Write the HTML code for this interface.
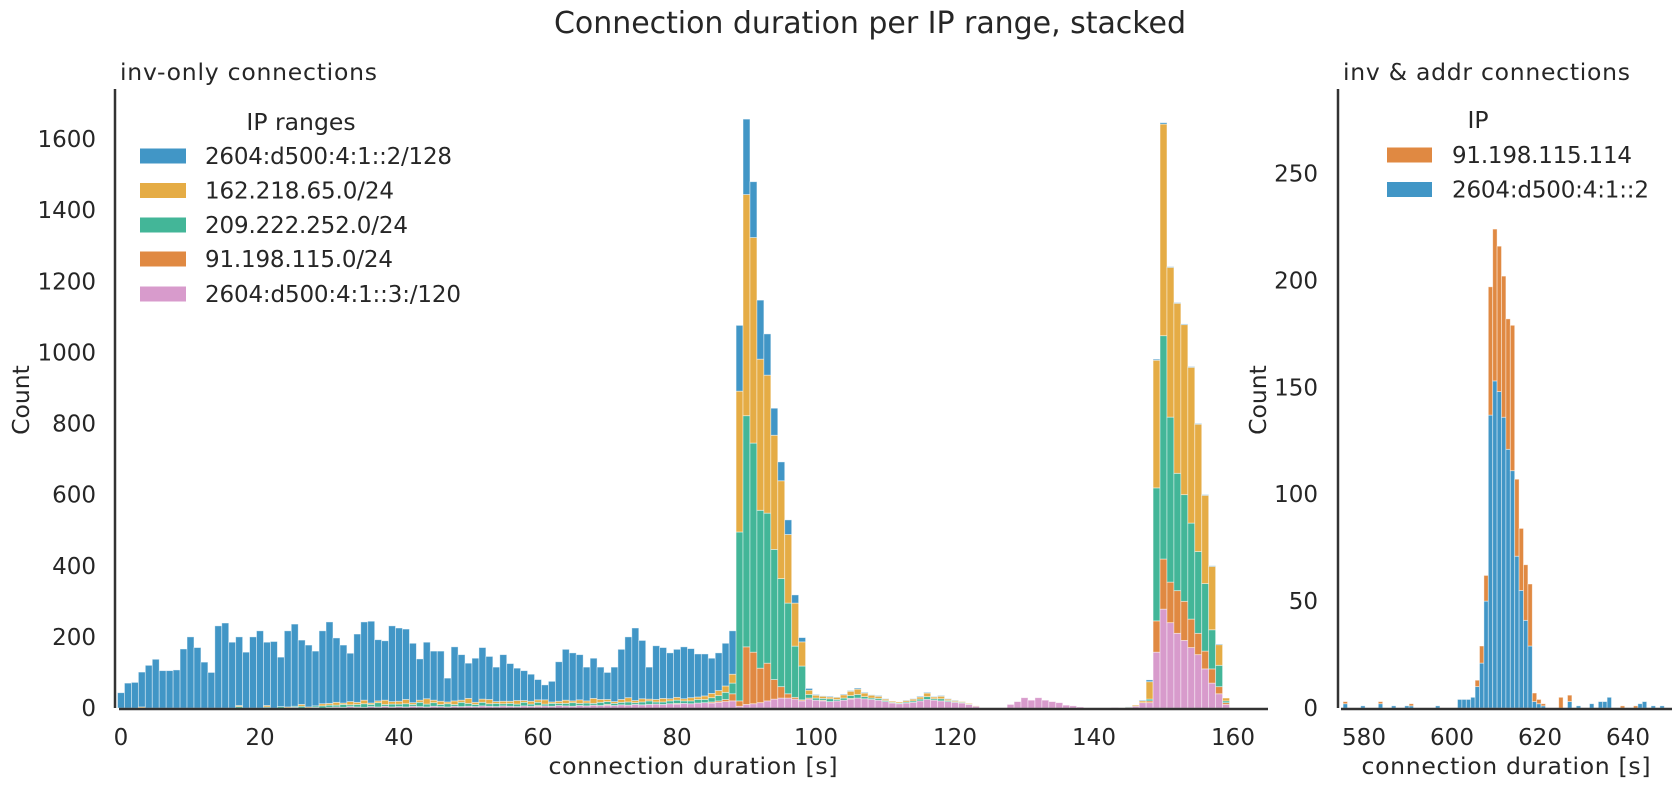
<!DOCTYPE html>
<html>
<head>
<meta charset="utf-8">
<style>
html,body{margin:0;padding:0;background:#fff;}
svg{display:block;font-family:"DejaVu Sans","Liberation Sans",sans-serif;}
text{fill:#262626;}
</style>
</head>
<body>
<svg id="chart" width="1679" height="790" viewBox="0 0 1679 790" xmlns="http://www.w3.org/2000/svg">
  <rect x="0" y="0" width="1679" height="790" fill="#fff"/>
  <text x="870" y="33" font-size="30" text-anchor="middle" textLength="632">Connection duration per IP range, stacked</text>

  <!-- left panel -->
  <text x="120" y="80" font-size="23.5" textLength="257">inv-only connections</text>
  <g id="leftBars"></g>
  <g id="leftYTicks"></g>
  <g id="leftXTicks"></g>
  <line x1="115" y1="89" x2="115" y2="708" stroke="#333" stroke-width="2.5"/>
  <line x1="119" y1="709" x2="1268" y2="709" stroke="#333" stroke-width="2.5"/>
  <text transform="translate(29,400) rotate(-90)" font-size="23.5" text-anchor="middle">Count</text>
  <text x="693" y="774" font-size="23.5" text-anchor="middle" textLength="289">connection duration [s]</text>

  <g>
    <text x="301" y="130" font-size="23.5" text-anchor="middle">IP ranges</text>
    <g><rect x="140" y="148.5" width="46" height="15" fill="#4196c6"/><text x="205" y="164" font-size="23" textLength="247">2604:d500:4:1::2/128</text></g>
    <g><rect x="140" y="183" width="46" height="15" fill="#e5ac45"/><text x="205" y="198.5" font-size="23" textLength="189">162.218.65.0/24</text></g>
    <g><rect x="140" y="217.5" width="46" height="15" fill="#43b698"/><text x="205" y="233" font-size="23" textLength="203">209.222.252.0/24</text></g>
    <g><rect x="140" y="251.5" width="46" height="15" fill="#e08942"/><text x="205" y="267" font-size="23" textLength="188">91.198.115.0/24</text></g>
    <g><rect x="140" y="286.5" width="46" height="15" fill="#d89bcc"/><text x="205" y="302" font-size="23" textLength="256">2604:d500:4:1::3:/120</text></g>
  </g>

  <!-- right panel -->
  <text x="1343" y="80" font-size="23.5" textLength="287">inv &amp; addr connections</text>
  <g id="rightBars"></g>
  <g id="rightYTicks"></g>
  <g id="rightXTicks"></g>
  <line x1="1338" y1="89" x2="1338" y2="708" stroke="#333" stroke-width="2.5"/>
  <line x1="1341" y1="709" x2="1672" y2="709" stroke="#333" stroke-width="2.5"/>
  <text transform="translate(1266,400) rotate(-90)" font-size="23.5" text-anchor="middle">Count</text>
  <text x="1506" y="774" font-size="23.5" text-anchor="middle" textLength="289">connection duration [s]</text>

  <g>
    <text x="1478" y="128" font-size="23.5" text-anchor="middle">IP</text>
    <g><rect x="1387" y="147.5" width="45" height="15" fill="#e08942"/><text x="1452" y="163" font-size="23" textLength="180">91.198.115.114</text></g>
    <g><rect x="1387" y="182" width="45" height="15" fill="#4196c6"/><text x="1452" y="197.5" font-size="23" textLength="197">2604:d500:4:1::2</text></g>
  </g>
</svg>
<script>
// ---------- left chart data (bin k covers [k-0.5, k+0.5] seconds) ----------
const leftBlue = [43,70,72,98,120,137,105,105,107,166,
200,170,129,100,231,239,185,193,157,200,
217,178,187,139,214,231,181,174,154,205,
229,181,163,136,192,220,230,172,167,213,
206,198,167,116,159,138,141,67,152,128,
99,124,145,121,97,131,106,91,84,76,
57,42,58,111,143,135,127,95,113,91,
76,97,141,171,204,164,90,151,143,129,
135,146,138,121,118,99,106,120,122,185,
212,157,166,116,76,53,41,23,12,5,
2,1,2,1,2,2,3,2,1,2,
1,0,0,1,1,2,2,1,2,1,
1,0,0,0,0,0,0,0,0,0,
0,0,0,0,0,0,0,0,0,0,
0,0,0,0,0,1,0,2,5,3,
4,2,2,2,2,2,2,2,2,0];
const leftYellow = [0,0,0,3,0,0,0,0,0,0,
0,0,0,0,0,0,0,3,0,0,
0,4,0,0,3,0,5,3,0,6,
5,8,4,9,6,10,4,5,12,7,
8,12,5,6,15,7,9,5,10,6,
14,6,9,12,5,7,6,10,5,8,
7,12,4,6,9,5,10,6,14,8,
6,5,8,12,6,9,5,7,10,6,
8,6,9,7,10,12,14,18,25,396,
622,578,425,388,321,275,193,121,68,12,
8,6,5,6,9,12,15,10,8,6,
4,3,3,4,5,6,10,5,7,4,
3,2,2,1,0,0,0,0,0,0,
0,0,0,0,0,0,0,0,0,0,
0,0,0,0,0,2,3,5,49,359,
595,421,478,478,438,358,248,178,58,8];
const leftTeal = [0,0,0,0,0,0,0,0,0,0,
0,0,0,0,0,0,0,4,0,0,
0,3,0,4,0,3,5,0,4,6,
6,5,8,5,7,10,6,12,5,8,
7,9,5,12,8,10,6,9,5,12,
8,6,10,7,9,6,8,7,10,6,
9,5,8,6,7,10,6,8,5,9,
8,6,7,9,5,8,10,6,7,8,
9,7,8,10,9,12,15,20,30,475,
650,588,444,422,366,304,255,144,95,10,
6,5,8,4,6,8,10,6,4,5,
3,2,2,3,4,5,8,4,6,3,
2,2,1,0,0,0,0,0,0,0,
0,0,0,0,0,0,0,0,0,0,
0,0,0,0,0,0,0,0,5,374,
628,464,330,300,270,230,190,110,60,5];
const leftOrange = [0,0,0,0,0,0,0,0,0,0,
0,0,0,0,0,0,0,0,0,0,
0,0,0,0,0,0,0,0,0,0,
0,0,0,0,0,0,0,0,0,0,
0,0,0,0,0,0,0,0,0,0,
0,0,0,0,0,0,0,0,0,0,
2,0,0,0,0,0,0,0,0,0,
2,0,0,0,0,0,0,0,0,0,
2,0,0,0,0,3,4,6,20,15,
162,145,97,106,55,32,12,5,3,3,
0,2,0,0,0,2,0,0,0,0,
0,0,0,0,0,0,0,0,0,0,
0,0,0,0,0,0,0,0,0,0,
0,0,0,0,0,0,0,0,0,0,
0,0,0,0,0,0,0,0,5,88,
141,114,120,110,80,60,50,40,20,5];
const leftPink = [0,0,0,0,0,0,0,0,0,0,
0,0,0,0,0,0,0,0,0,0,
0,0,0,0,0,2,0,0,2,0,
2,3,2,4,3,2,4,3,5,3,
4,3,5,4,3,5,4,3,5,4,
5,4,6,5,4,6,5,4,6,5,
5,6,5,7,6,5,7,6,8,7,
8,7,9,8,10,9,10,11,10,12,
11,13,12,14,15,14,16,18,20,5,
10,12,15,20,25,28,28,25,20,25,
22,20,18,20,22,25,28,26,24,22,
18,14,12,14,16,20,24,22,20,18,
16,14,10,5,0,0,0,0,10,18,
29,22,29,22,18,15,8,6,3,0,
0,0,0,1,0,0,5,15,15,157,
278,240,210,190,170,150,110,70,40,10];
const leftXTickLabels = [0,20,40,60,80,100,120,140,160];
const leftYTickLabels = [0,200,400,600,800,1000,1200,1400,1600];

// ---------- right chart data (bins start at 574 s, 1 s wide) ----------
const rightBinStart = 574;
const rightBlue = [0,2,0,0,0,1,0,0,0,2, 0,0,1,0,0,1,1,0,0,0, 0,0,1,0,0,0,0,4,4,4,
5,10,21,50,137,153,148,136,121,111, 71,55,41,29,3,2,1,0,0,0, 0,0,3,0,1,0,0,2,0,3,
3,5,0,0,0,0,0,0,2,3, 0,1,0,1,0,0];
const rightOrange = [0,1,0,0,0,0,0,0,0,1, 0,0,0,0,0,0,1,0,0,0, 0,0,0,0,0,0,0,0,0,0,
0,3,8,12,60,71,68,66,61,68, 36,29,26,29,4,2,1,0,0,0, 5,0,3,0,0,0,0,0,0,0,
0,0,0,0,1,0,0,1,0,0, 0,0,0,0,0,0];
const rightXTickLabels = [580,600,620,640];
const rightYTickLabels = [0,50,100,150,200,250];

const NS = "http://www.w3.org/2000/svg";
const COL = {blue:"#4196c6", yellow:"#e5ac45", teal:"#43b698", orange:"#e08942", pink:"#d89bcc"};

function lx(s){ return 121 + s*6.95; }
function ly(v){ return 708 - v*0.3556; }
function rx(s){ return 1364 + (s-580)*4.4; }
function ry(v){ return 708 - v*2.138; }

function mkRect(parent, x, y, w, h, fill){
  const r = document.createElementNS(NS, "rect");
  r.setAttribute("x", x.toFixed(2));
  r.setAttribute("y", y.toFixed(2));
  r.setAttribute("width", w.toFixed(2));
  r.setAttribute("height", Math.max(0,h).toFixed(2));
  r.setAttribute("fill", fill);
  r.setAttribute("stroke", "rgba(255,255,255,0.55)");
  r.setAttribute("stroke-width", "0.8");
  parent.appendChild(r);
  return r;
}

const lg = document.getElementById("leftBars");
const leftSeries = [["pink",leftPink],["orange",leftOrange],["teal",leftTeal],["yellow",leftYellow],["blue",leftBlue]];
for (let k=0;k<leftBlue.length;k++){
  let base = 0;
  for (const [name, arr] of leftSeries){
    const v = arr[k];
    if (v>0){
      const r = mkRect(lg, lx(k-0.5), ly(base+v), lx(k+0.5)-lx(k-0.5), ly(base)-ly(base+v), COL[name]);
      
      
    }
    base += v;
  }
}

const rg = document.getElementById("rightBars");
const rightSeries = [["blue",rightBlue],["orange",rightOrange]];
for (let i=0;i<rightBlue.length;i++){
  const s0 = rightBinStart + i + 0.25;
  let base = 0;
  for (const [name, arr] of rightSeries){
    const v = arr[i];
    if (v>0){
      const r = mkRect(rg, rx(s0), ry(base+v), rx(s0+1)-rx(s0), ry(base)-ry(base+v), COL[name]);
      
      
    }
    base += v;
  }
}

function mkText(parent, x, y, str, anchor){
  const t = document.createElementNS(NS, "text");
  t.setAttribute("x", x);
  t.setAttribute("y", y);
  t.setAttribute("font-size", "23");
  t.setAttribute("text-anchor", anchor);
  t.textContent = str;
  parent.appendChild(t);
  return t;
}
const lyt = document.getElementById("leftYTicks");
for (const v of leftYTickLabels){
  const t = mkText(lyt, 96, ly(v)+8, String(v), "end");
  
  
}
const lxt = document.getElementById("leftXTicks");
for (const v of leftXTickLabels){
  const t = mkText(lxt, lx(v), 745, String(v), "middle");
  
  
}
const ryt = document.getElementById("rightYTicks");
for (const v of rightYTickLabels){
  const t = mkText(ryt, 1318, ry(v)+8, String(v), "end");
  
  
}
const rxt = document.getElementById("rightXTicks");
for (const v of rightXTickLabels){
  const t = mkText(rxt, rx(v), 745, String(v), "middle");
  
  
}
</script>
</body>
</html>
